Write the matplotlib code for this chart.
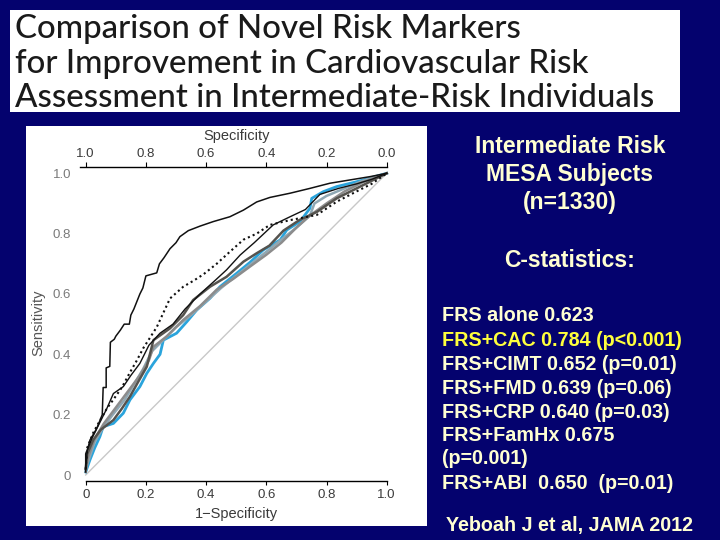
import matplotlib
matplotlib.use("Agg")
import matplotlib.pyplot as plt
from matplotlib.patches import Rectangle

# ---------------- data ----------------
title_lines = ["Comparison of Novel Risk Markers",
               "for Improvement in Cardiovascular Risk",
               "Assessment in Intermediate-Risk Individuals"]

fpr_ticks = [0, 0.2, 0.4, 0.6, 0.8, 1.0]
fpr_tick_labels = ["0", "0.2", "0.4", "0.6", "0.8", "1.0"]
spec_ticks = [1.0, 0.8, 0.6, 0.4, 0.2, 0.0]
spec_tick_labels = ["1.0", "0.8", "0.6", "0.4", "0.2", "0.0"]
sens_ticks = [0, 0.2, 0.4, 0.6, 0.8, 1.0]
sens_tick_labels = ["0", "0.2", "0.4", "0.6", "0.8", "1.0"]
sens_marked_ticks = [0.2, 0.4, 0.6]

cac_fpr = [0, 0, 0.02, 0.035, 0.055, 0.058, 0.068, 0.068, 0.08, 0.082, 0.095, 0.10, 0.115,
           0.128, 0.145, 0.15, 0.16, 0.17, 0.18, 0.19, 0.20, 0.236, 0.245, 0.26, 0.28, 0.30,
           0.313, 0.341, 0.38, 0.424, 0.479, 0.524, 0.568, 0.612, 0.679, 0.745, 0.811, 0.878,
           0.945, 1.0]
cac_tpr = [0.01, 0.07, 0.12, 0.15, 0.20, 0.29, 0.29, 0.355, 0.36, 0.44, 0.45, 0.46, 0.48,
           0.50, 0.50, 0.53, 0.55, 0.575, 0.60, 0.62, 0.66, 0.67, 0.70, 0.72, 0.75, 0.77,
           0.79, 0.81, 0.825, 0.84, 0.856, 0.878, 0.905, 0.92, 0.934, 0.95, 0.967, 0.978,
           0.989, 1.0]

famhx_fpr = [0, 0.005, 0.025, 0.047, 0.07, 0.092, 0.12, 0.147, 0.17, 0.191, 0.236, 0.280,
             0.324, 0.36, 0.391, 0.435, 0.479, 0.524, 0.568, 0.612, 0.68, 0.768, 0.834,
             0.90, 0.95, 1.0]
famhx_tpr = [0.02, 0.09, 0.14, 0.18, 0.22, 0.25, 0.29, 0.34, 0.38, 0.42, 0.49, 0.585,
             0.624, 0.645, 0.665, 0.70, 0.74, 0.78, 0.80, 0.829, 0.845, 0.862, 0.906,
             0.94, 0.965, 1.0]

cimt_fpr = [0, 0.005, 0.014, 0.04, 0.07, 0.092, 0.125, 0.15, 0.180, 0.21, 0.247, 0.29,
            0.33, 0.380, 0.43, 0.468, 0.513, 0.56, 0.623, 0.679, 0.73, 0.778, 0.84, 0.90,
            0.95, 1.0]
cimt_tpr = [0.02, 0.08, 0.116, 0.16, 0.22, 0.27, 0.293, 0.33, 0.37, 0.43, 0.47, 0.50,
            0.55, 0.60, 0.645, 0.68, 0.729, 0.77, 0.829, 0.856, 0.88, 0.93, 0.95, 0.965,
            0.98, 1.0]

crp_fpr = [0, 0.005, 0.025, 0.05, 0.092, 0.12, 0.147, 0.175, 0.203, 0.225, 0.280, 0.324,
           0.357, 0.413, 0.468, 0.524, 0.568, 0.61, 0.657, 0.71, 0.768, 0.834, 0.90, 0.95, 1.0]
crp_tpr = [0.02, 0.07, 0.116, 0.15, 0.182, 0.22, 0.26, 0.31, 0.359, 0.447, 0.486, 0.530,
           0.58, 0.624, 0.657, 0.707, 0.735, 0.76, 0.81, 0.845, 0.872, 0.917, 0.95, 0.975, 1.0]

fmd_fpr = [0, 0.008, 0.03, 0.06, 0.09, 0.12, 0.15, 0.18, 0.21, 0.225, 0.27, 0.324, 0.38,
           0.435, 0.49, 0.546, 0.60, 0.65, 0.70, 0.745, 0.80, 0.86, 0.92, 1.0]
fmd_tpr = [0.01, 0.06, 0.12, 0.17, 0.21, 0.25, 0.29, 0.33, 0.38, 0.425, 0.46, 0.514, 0.56,
           0.614, 0.65, 0.691, 0.73, 0.77, 0.82, 0.86, 0.90, 0.94, 0.97, 1.0]

abi_fpr = [0, 0.01, 0.03, 0.06, 0.09, 0.13, 0.16, 0.19, 0.22, 0.26, 0.30, 0.35, 0.40, 0.45,
           0.50, 0.55, 0.60, 0.65, 0.70, 0.745, 0.76, 0.80, 0.86, 0.92, 1.0]
abi_tpr = [0.02, 0.05, 0.11, 0.16, 0.20, 0.25, 0.30, 0.35, 0.41, 0.45, 0.49, 0.53, 0.575,
           0.62, 0.66, 0.70, 0.74, 0.78, 0.82, 0.86, 0.90, 0.925, 0.95, 0.975, 1.0]

frs_fpr = [0, 0.014, 0.03, 0.047, 0.058, 0.092, 0.125, 0.147, 0.180, 0.203, 0.225, 0.247,
           0.258, 0.302, 0.336, 0.369, 0.413, 0.446, 0.502, 0.546, 0.590, 0.646, 0.668,
           0.712, 0.745, 0.751, 0.789, 0.834, 0.900, 1.0]
frs_tpr = [0.01, 0.05, 0.09, 0.127, 0.16, 0.171, 0.205, 0.249, 0.293, 0.337, 0.370, 0.40,
           0.447, 0.470, 0.508, 0.547, 0.586, 0.624, 0.669, 0.705, 0.746, 0.779, 0.812,
           0.840, 0.884, 0.917, 0.939, 0.956, 0.972, 1.0]

ref_line = [0, 1]

header_lines = ["Intermediate Risk", "MESA Subjects", "(n=1330)"]
cstat_header = "C-statistics:"
cstat_lines = ["FRS alone 0.623",
               "FRS+CAC 0.784 (p<0.001)",
               "FRS+CIMT 0.652 (p=0.01)",
               "FRS+FMD 0.639 (p=0.06)",
               "FRS+CRP 0.640 (p=0.03)",
               "FRS+FamHx 0.675",
               "(p=0.001)",
               "FRS+ABI  0.650  (p=0.01)"]
highlight_line = 1
citation = "Yeboah J et al, JAMA 2012"

# ---------------- style ----------------
W, H = 720, 540
NAVY = "#04026e"
TEXT = "#ffffd2"
YELLOW = "#ffff3c"


def fx(px):
    return px / W


def fy(py):
    return 1 - py / H


fig = plt.figure(figsize=(7.2, 5.4), dpi=100)
fig.patch.set_facecolor(NAVY)

# title box
fig.add_artist(Rectangle((fx(10), fy(112)), fx(680) - fx(10), fy(10) - fy(112),
                         transform=fig.transFigure, facecolor="white", edgecolor="none", zorder=0))
# plot panel
fig.add_artist(Rectangle((fx(26), fy(526)), fx(427) - fx(26), fy(126) - fy(526),
                         transform=fig.transFigure, facecolor="white", edgecolor="none", zorder=0))

title_texts = []
for line, base in zip(title_lines, [38, 73, 107]):
    t = fig.text(fx(15), fy(base), line, family="Lato", weight=500, fontsize=24,
                 color="#1a1a1a", ha="left", va="baseline")
    title_texts.append(t)
fig.canvas.draw()
r = fig.canvas.get_renderer()
wt = title_texts[2].get_window_extent(r).width
fs = 24 * 640 / wt
for t in title_texts:
    t.set_fontsize(fs)

# ---------------- ROC axes ----------------
x0_px, x1_px = 85.7, 386.7
y0_px, y1_px = 475.0, 173.3
sx = (x1_px - x0_px)
sy = (y0_px - y1_px)
xlim = (-0.025, 1.02)
ylim = (-0.02, 1.02)
left = x0_px + xlim[0] * sx
right = x0_px + xlim[1] * sx
bottom = y0_px - ylim[0] * sy
top = y0_px - ylim[1] * sy
ax = fig.add_axes([fx(left), fy(bottom), fx(right) - fx(left), fy(top) - fy(bottom)])
ax.set_facecolor("none")
ax.set_xlim(*xlim)
ax.set_ylim(*ylim)

ax.plot(ref_line, ref_line, color="#c8c8c8", lw=1.0, zorder=1)
ax.plot(frs_fpr, frs_tpr, color="#2aa4dc", lw=2.0, zorder=2)
ax.plot(abi_fpr, abi_tpr, color="#8fa8b4", lw=1.8, zorder=3)
ax.plot(fmd_fpr, fmd_tpr, color="#8c8c8c", lw=1.8, zorder=3)
ax.plot(crp_fpr, crp_tpr, color="#55534e", lw=1.8, zorder=4)
ax.plot(cimt_fpr, cimt_tpr, color="#111111", lw=1.0, zorder=5)
ax.plot(famhx_fpr, famhx_tpr, color="#111111", lw=1.5, ls=(0, (1, 1.5)), zorder=5)
ax.plot(cac_fpr, cac_tpr, color="#111111", lw=1.1, zorder=6)

for s in ["left", "right", "top"]:
    ax.spines[s].set_visible(False)
ax.spines["bottom"].set_bounds(0, 1)
ax.spines["bottom"].set_linewidth(1.0)

ax.set_xticks(fpr_ticks)
ax.set_xticklabels(fpr_tick_labels)
ax.tick_params(axis="x", direction="out", length=3.2, width=0.8, pad=2.5,
               labelsize=9.5, labelcolor="#3a3a3a")
ax.set_yticks(sens_ticks)
ax.set_yticklabels(sens_tick_labels)
ax.tick_params(axis="y", which="major", length=0, pad=5, labelsize=9.5, labelcolor="#7a7a7a")
ax.set_yticks(sens_marked_ticks, minor=True)
ax.tick_params(axis="y", which="minor", direction="out", length=3.8, width=0.8, color="#555555")

for lab in ax.get_xticklabels() + ax.get_yticklabels():
    lab.set_family("Liberation Sans")

ax.set_xlabel("1\u2212Specificity", family="Liberation Sans", fontsize=10.5, color="#3a3a3a")
ax.xaxis.label.set_va("center")
ax.xaxis.set_label_coords((236.2 - left) / (right - left), (bottom - 514) / (bottom - top))
ax.set_ylabel("Sensitivity", family="Liberation Sans", fontsize=10.5, color="#555555")
ax.yaxis.label.set_va("center")
ax.yaxis.set_label_coords((38 - left) / (right - left), (bottom - 323) / (bottom - top))

ax2 = ax.twiny()
ax2.set_xlim(*xlim)
for s in ["left", "right", "bottom"]:
    ax2.spines[s].set_visible(False)
ax2.spines["top"].set_bounds(-0.02, 1.0)
ax2.spines["top"].set_linewidth(1.0)
ax2.set_xticks([1 - s for s in spec_ticks])
ax2.set_xticklabels(spec_tick_labels)
ax2.tick_params(axis="x", direction="out", length=3.6, width=0.8, pad=1.5,
                labelsize=9.5, labelcolor="#3a3a3a")
for lab in ax2.get_xticklabels():
    lab.set_family("Liberation Sans")
ax2.set_xlabel("Specificity", family="Liberation Sans", fontsize=10.5, color="#3a3a3a")
ax2.xaxis.label.set_va("center")
ax2.xaxis.set_label_coords((236.2 - left) / (right - left), (bottom - 136) / (bottom - top))

# ---------------- right text panel ----------------
hkw = dict(family="Liberation Sans", weight="bold", fontsize=16.5)
lkw = dict(family="Liberation Sans", weight="bold", fontsize=14.2)
for line, py in zip(header_lines, [153, 181, 209]):
    fig.text(fx(570), fy(py), line, color=TEXT, ha="center", va="baseline", **hkw)
fig.text(fx(570), fy(267), cstat_header, color=TEXT, ha="center", va="baseline", **hkw)
for i, (line, py) in enumerate(zip(cstat_lines, [321, 345.5, 370, 394, 417.5, 441, 464.5, 489])):
    fig.text(fx(442), fy(py), line, color=YELLOW if i == highlight_line else TEXT,
             ha="left", va="baseline", **lkw)
fig.text(fx(569), fy(531), citation, color=TEXT, ha="center", va="baseline", **lkw)

fig.savefig("out.png", dpi=100, facecolor=NAVY)
